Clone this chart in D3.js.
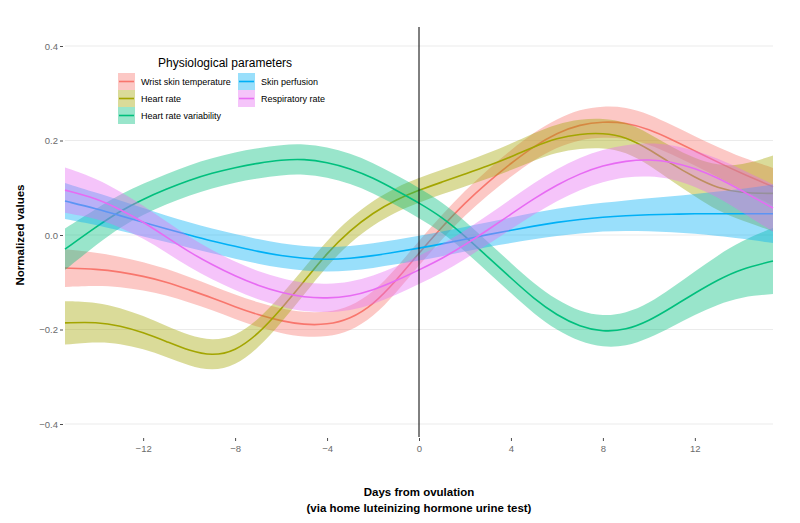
<!DOCTYPE html>
<html>
<head>
<meta charset="utf-8">
<script src="https://cdn.jsdelivr.net/npm/d3@7/dist/d3.min.js"></script>
<style>
  html, body { margin: 0; padding: 0; background: #fff; }
  svg { display: block; font-family: "Liberation Sans", Arial, Helvetica, sans-serif; }
</style>
</head>
<body>
<svg id="chart" width="800" height="523"></svg>
<script>
// ---- Data ----
const days = [-15.4, -14, -13, -12, -11, -10, -9, -8, -7, -6, -5, -4, -3, -2, -1, 0,
              1, 2, 3, 4, 5, 6, 7, 8, 9, 10, 11, 12, 13, 14, 15.4];

const seriesNames = ["Wrist skin temperature", "Heart rate", "Heart rate variability",
                     "Skin perfusion", "Respiratory rate"];
const seriesColors = ["#F8766D", "#A3A500", "#00BF7D", "#00B0F6", "#E76BF3"];

const wristTemp = [-0.070, -0.072, -0.078, -0.087, -0.099, -0.116, -0.133, -0.152, -0.169, -0.182,
                   -0.190, -0.190, -0.178, -0.148, -0.097, -0.038, 0.017, 0.068, 0.112, 0.152,
                   0.188, 0.216, 0.234, 0.240, 0.238, 0.224, 0.202, 0.178, 0.154, 0.131, 0.102];
const wristTempCI = [0.040, 0.035, 0.032, 0.030, 0.028, 0.027, 0.026, 0.026, 0.026, 0.026,
                     0.026, 0.026, 0.026, 0.026, 0.026, 0.026, 0.026, 0.026, 0.027, 0.028,
                     0.029, 0.030, 0.032, 0.033, 0.033, 0.032, 0.031, 0.031, 0.032, 0.034, 0.040];

const heartRate = [-0.186, -0.184, -0.192, -0.206, -0.225, -0.245, -0.256, -0.246, -0.210, -0.157,
                   -0.098, -0.038, 0.010, 0.047, 0.075, 0.095, 0.112, 0.129, 0.146, 0.165,
                   0.187, 0.205, 0.214, 0.216, 0.208, 0.182, 0.150, 0.122, 0.099, 0.089, 0.088];
const heartRateCI = [0.046, 0.042, 0.038, 0.035, 0.033, 0.032, 0.032, 0.031, 0.030, 0.029,
                     0.028, 0.027, 0.026, 0.026, 0.026, 0.026, 0.026, 0.026, 0.027, 0.028,
                     0.029, 0.030, 0.031, 0.031, 0.032, 0.033, 0.036, 0.040, 0.048, 0.058, 0.080];

const hrv = [-0.030, 0.019, 0.051, 0.076, 0.097, 0.116, 0.131, 0.143, 0.152, 0.159,
             0.161, 0.154, 0.141, 0.121, 0.095, 0.068, 0.038, -0.002, -0.047, -0.091,
             -0.135, -0.170, -0.194, -0.205, -0.201, -0.182, -0.153, -0.123, -0.095, -0.072, -0.055];
const hrvCI = [0.044, 0.038, 0.035, 0.033, 0.032, 0.032, 0.032, 0.032, 0.032, 0.032,
               0.032, 0.032, 0.032, 0.032, 0.032, 0.032, 0.032, 0.032, 0.032, 0.032,
               0.032, 0.032, 0.032, 0.033, 0.035, 0.037, 0.041, 0.046, 0.052, 0.059, 0.070];

const skinPerfusion = [0.072, 0.055, 0.041, 0.027, 0.013, 0.000, -0.013, -0.024, -0.035, -0.044,
                       -0.050, -0.052, -0.050, -0.044, -0.036, -0.028, -0.019, -0.009, 0.001, 0.010,
                       0.019, 0.027, 0.033, 0.038, 0.041, 0.043, 0.044, 0.045, 0.045, 0.045, 0.045];
const skinPerfusionCI = [0.038, 0.034, 0.032, 0.030, 0.028, 0.027, 0.026, 0.026, 0.026, 0.026,
                         0.026, 0.026, 0.026, 0.026, 0.026, 0.026, 0.026, 0.026, 0.026, 0.027,
                         0.028, 0.029, 0.030, 0.030, 0.032, 0.035, 0.038, 0.042, 0.047, 0.052, 0.062];

const respRate = [0.095, 0.077, 0.054, 0.028, -0.004, -0.036, -0.063, -0.087, -0.107, -0.122,
                  -0.132, -0.134, -0.130, -0.117, -0.097, -0.074, -0.050, -0.021, 0.011, 0.044,
                  0.077, 0.106, 0.130, 0.147, 0.157, 0.160, 0.155, 0.141, 0.121, 0.095, 0.057];
const respRateCI = [0.048, 0.042, 0.038, 0.035, 0.033, 0.032, 0.031, 0.030, 0.030, 0.030,
                    0.030, 0.030, 0.030, 0.030, 0.030, 0.030, 0.030, 0.030, 0.031, 0.032,
                    0.033, 0.034, 0.034, 0.034, 0.034, 0.035, 0.036, 0.038, 0.041, 0.045, 0.050];

const xTicks = [-12, -8, -4, 0, 4, 8, 12];
const yTicks = [-0.4, -0.2, 0.0, 0.2, 0.4];

const seriesValues = [wristTemp, heartRate, hrv, skinPerfusion, respRate];
const seriesCI = [wristTempCI, heartRateCI, hrvCI, skinPerfusionCI, respRateCI];

// ---- Layout ----
const svg = d3.select("#chart");
const panel = { left: 65, right: 773, top: 27, bottom: 437 };

const x = d3.scaleLinear().domain([-15.4, 15.4]).range([panel.left, panel.right]);
const y = d3.scaleLinear().domain([-0.4, 0.4]).range([424, 46]);

// grid
svg.append("g").selectAll("line").data(yTicks).join("line")
  .attr("x1", panel.left).attr("x2", panel.right)
  .attr("y1", d => y(d)).attr("y2", d => y(d))
  .attr("stroke", "#ebebeb").attr("stroke-width", 1.1);

// y axis
const yAxis = d3.axisLeft(y).tickValues(yTicks).tickFormat(d3.format(".1f")).tickSize(3).tickPadding(2);
const gy = svg.append("g").attr("transform", `translate(${panel.left - 2},0)`).call(yAxis);
gy.select(".domain").remove();
gy.selectAll(".tick line").attr("stroke", "#4d4d4d").attr("stroke-width", 1);
gy.selectAll(".tick text").attr("fill", "#6b6b6b").attr("font-size", 9.5)
  .attr("font-family", "Liberation Sans, Arial, sans-serif");

// x axis
const xAxis = d3.axisBottom(x).tickValues(xTicks).tickFormat(d3.format("d")).tickSize(3).tickPadding(4);
const gx = svg.append("g").attr("transform", `translate(0,${panel.bottom + 1})`).call(xAxis);
gx.select(".domain").remove();
gx.selectAll(".tick line").attr("stroke", "#4d4d4d").attr("stroke-width", 1);
gx.selectAll(".tick text").attr("fill", "#6b6b6b").attr("font-size", 9.5)
  .attr("font-family", "Liberation Sans, Arial, sans-serif");

// ribbons + lines
const curve = d3.curveBasis;
seriesValues.forEach((vals, i) => {
  const pts = days.map((d, j) => ({ d, v: vals[j], ci: seriesCI[i][j] }));
  const area = d3.area().curve(curve)
    .x(p => x(p.d)).y0(p => y(p.v - p.ci)).y1(p => y(p.v + p.ci));
  const line = d3.line().curve(curve).x(p => x(p.d)).y(p => y(p.v));
  svg.append("path").attr("d", area(pts))
    .attr("fill", seriesColors[i]).attr("fill-opacity", 0.4).attr("stroke", "none");
  svg.append("path").attr("d", line(pts))
    .attr("fill", "none").attr("stroke", seriesColors[i]).attr("stroke-width", 1.6);
});

// vertical line at ovulation
svg.append("line")
  .attr("x1", x(0)).attr("x2", x(0)).attr("y1", panel.top).attr("y2", panel.bottom)
  .attr("stroke", "#000").attr("stroke-width", 1);

// axis titles
svg.append("text").attr("x", 419).attr("y", 496).attr("text-anchor", "middle")
  .attr("font-size", 11.5).attr("font-weight", "bold").attr("fill", "#000")
  .text("Days from ovulation");
svg.append("text").attr("x", 419).attr("y", 512).attr("text-anchor", "middle")
  .attr("font-size", 11.5).attr("font-weight", "bold").attr("fill", "#000")
  .text("(via home luteinizing hormone urine test)");
svg.append("text").attr("transform", "translate(24,235) rotate(-90)")
  .attr("text-anchor", "middle").attr("font-size", 11.5).attr("font-weight", "bold")
  .attr("fill", "#000").text("Normalized values");

// legend
const lg = svg.append("g");
lg.append("text").attr("x", 158).attr("y", 67).attr("font-size", 12).attr("fill", "#000")
  .text("Physiological parameters");
const keyPos = [[118, 73], [118, 90], [118, 107], [238, 73], [238, 90]];
seriesNames.forEach((name, i) => {
  const [kx, ky] = keyPos[i];
  lg.append("rect").attr("x", kx).attr("y", ky).attr("width", 17).attr("height", 17)
    .attr("fill", seriesColors[i]).attr("fill-opacity", 0.4);
  lg.append("line").attr("x1", kx + 1).attr("x2", kx + 16).attr("y1", ky + 8.5).attr("y2", ky + 8.5)
    .attr("stroke", seriesColors[i]).attr("stroke-width", 1.6);
  lg.append("text").attr("x", kx + 23).attr("y", ky + 8.5).attr("dy", "0.35em")
    .attr("font-size", 9).attr("fill", "#000").text(name);
});
</script>
</body>
</html>
